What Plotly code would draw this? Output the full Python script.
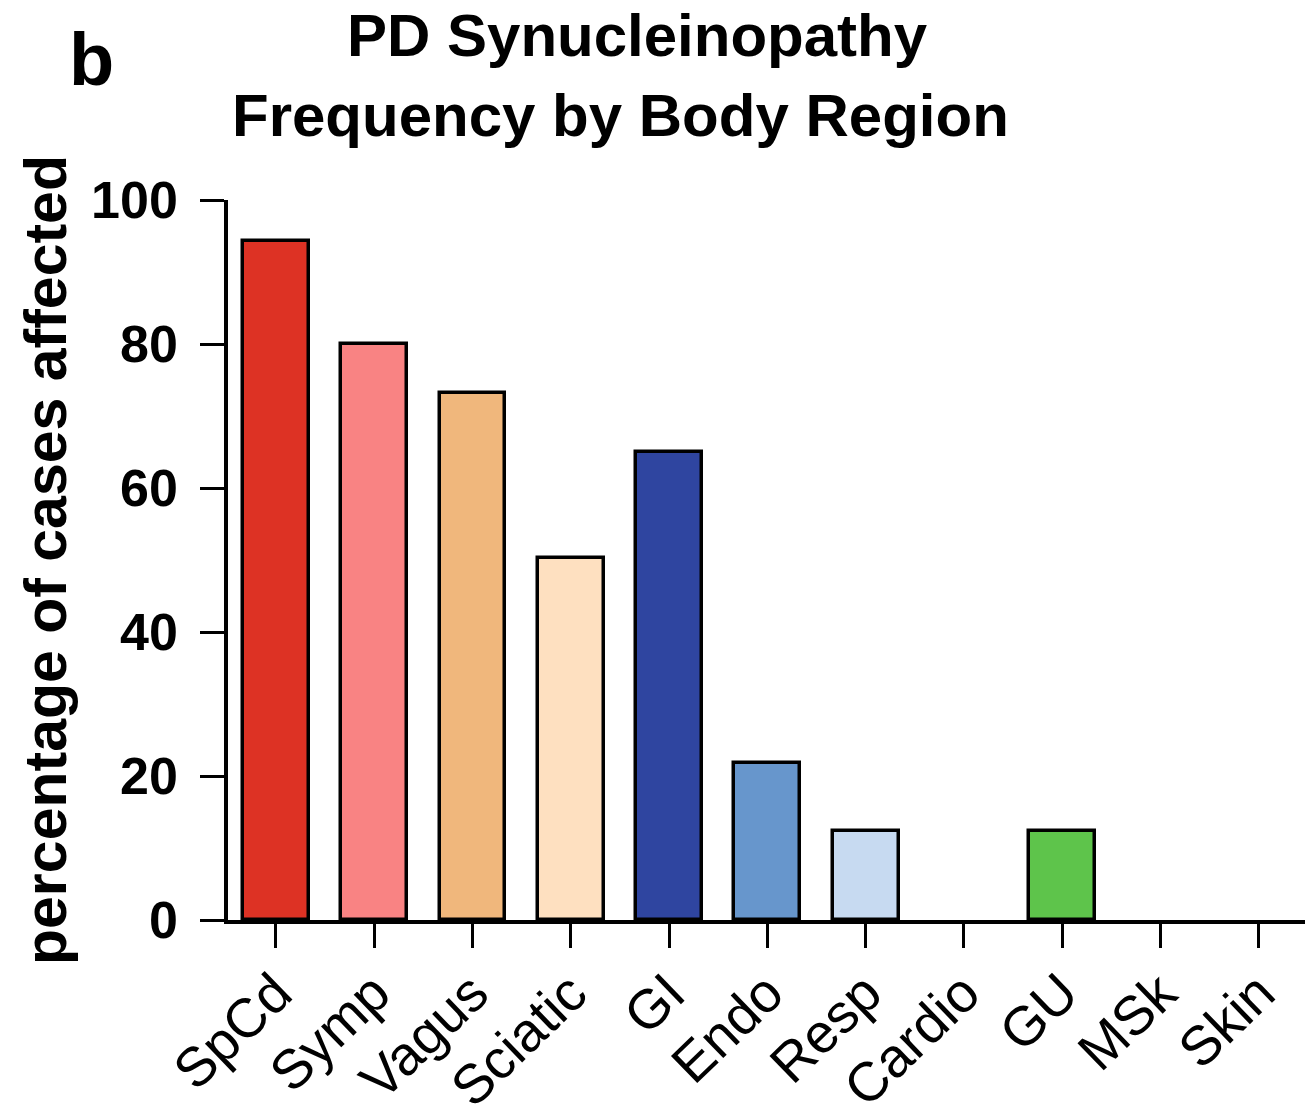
import plotly.graph_objects as go

categories = ["SpCd", "Symp", "Vagus", "Sciatic", "GI", "Endo", "Resp", "Cardio", "GU", "MSk", "Skin"]
values = [94.3, 80.0, 73.2, 50.3, 65.0, 21.8, 12.4, 0, 12.4, 0, 0]
colors = ["#DD3224", "#F98383", "#F0B77C", "#FEE0C0", "#2F45A0", "#6796CC",
          "#C7DAF1", "#FFFFFF", "#5EC44B", "#FFFFFF", "#FFFFFF"]
y_ticks = [0, 20, 40, 60, 80, 100]

FONT = "Liberation Sans"

fig = go.Figure()
fig.add_trace(go.Bar(
    x=list(range(len(categories))),
    y=values,
    width=0.67,
    marker=dict(color=colors,
                line=dict(color="black", width=[3.5 if v > 0 else 0 for v in values])),
))

# page body has an 8px margin; figure sized so it ends at the window edge
OFF = 8
W, H = 1313 - OFF, 1114 - OFF
L, R, T, B = 228 - OFF, 5, 200 - OFF, 1114 - 920
pw, ph = W - L - R, H - T - B

def px_x(X):
    return (X - OFF - L) / pw

def px_y(Y):
    return (H - B - (Y - OFF)) / ph

fig.update_layout(
    width=W, height=H,
    margin=dict(l=L, r=R, t=T, b=B),
    paper_bgcolor="white", plot_bgcolor="white",
    showlegend=False,
    bargap=0,
    xaxis=dict(
        range=[-0.488, 10.5],
        tickmode="array",
        tickvals=list(range(len(categories))),
        ticktext=categories,
        tickangle=-44,
        ticks="outside", ticklen=24, tickwidth=3, tickcolor="black",
        showline=True, linewidth=3.5, linecolor="black",
        showgrid=False, zeroline=False,
        tickfont=dict(family=FONT, size=55, color="black"),
        ticklabelstandoff=-9,
        automargin=False,
    ),
    yaxis=dict(
        range=[0, 100],
        tickmode="array",
        tickvals=y_ticks,
        ticktext=[str(v) for v in y_ticks],
        ticks="outside", ticklen=24, tickwidth=3, tickcolor="black",
        showline=True, linewidth=3.5, linecolor="black",
        showgrid=False, zeroline=False,
        tickfont=dict(family=FONT, size=52, color="black", weight="bold"),
        ticklabelstandoff=12,
        automargin=False,
    ),
    annotations=[
        dict(text="PD Synucleinopathy", xref="paper", yref="paper",
             x=px_x(637), y=px_y(36), xanchor="center", yanchor="middle",
             showarrow=False, font=dict(family=FONT, size=60, color="black", weight="bold")),
        dict(text="Frequency by Body Region", xref="paper", yref="paper",
             x=px_x(620), y=px_y(116), xanchor="center", yanchor="middle",
             showarrow=False, font=dict(family=FONT, size=60, color="black", weight="bold")),
        dict(text="b", xref="paper", yref="paper",
             x=px_x(91), y=px_y(59), xanchor="center", yanchor="middle",
             showarrow=False, font=dict(family=FONT, size=74, color="black", weight="bold")),
        dict(text="percentage of cases affected", xref="paper", yref="paper",
             x=px_x(46), y=px_y(560), xanchor="center", yanchor="middle",
             textangle=-90,
             showarrow=False, font=dict(family=FONT, size=59, color="black", weight="bold")),
    ],
)

fig.write_html("out.html")
